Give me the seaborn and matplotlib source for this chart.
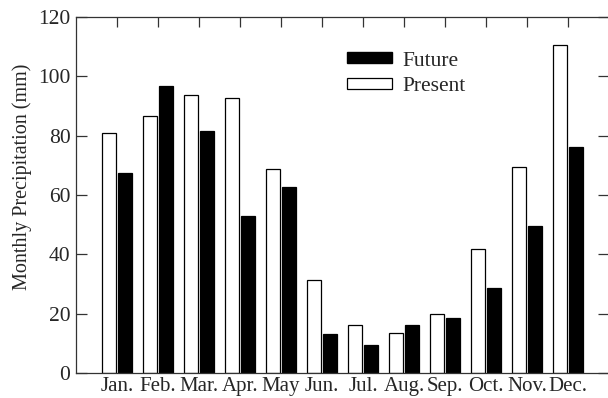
import pandas as pd
import matplotlib
matplotlib.use("Agg")
import matplotlib.pyplot as plt
import seaborn as sns
from matplotlib.patches import Patch

months = ['Jan.', 'Feb.', 'Mar.', 'Apr.', 'May', 'Jun.',
          'Jul.', 'Aug.', 'Sep.', 'Oct.', 'Nov.', 'Dec.']
present = [80.8, 86.5, 93.8, 92.6, 68.8, 31.2, 16.1, 13.6, 19.8, 41.9, 69.5, 110.5]
future = [67.4, 96.7, 81.6, 52.9, 62.6, 13.1, 9.4, 16.2, 18.5, 28.6, 49.5, 76.3]

colors = {'Present': 'white', 'Future': 'black'}

df = pd.DataFrame({
    'month': months * 2,
    'precip': present + future,
    'period': ['Present'] * len(months) + ['Future'] * len(months),
})

sns.set_style('white')
plt.rcParams['font.family'] = ['Liberation Serif', 'DejaVu Serif']

fig = plt.figure(figsize=(6.08, 3.98), dpi=100)
ax = fig.add_axes([76 / 608, 25 / 398, 533 / 608, 356 / 398])

sns.barplot(data=df, x='month', y='precip', hue='period',
            hue_order=['Present', 'Future'], palette=colors,
            order=months, width=0.8, gap=0.15,
            edgecolor='black', linewidth=0.9, legend=False, ax=ax)

ax.set_xlim(-1, 12)
ax.set_ylim(0, 120)
ax.set_yticks(range(0, 121, 20))
ax.set_xlabel('')
ax.set_ylabel('Monthly Precipitation (mm)', fontsize=14.5)
ax.yaxis.set_label_coords(-0.083, 0.55)

ax.tick_params(axis='x', bottom=False, top=True, direction='in',
               length=7, width=0.9, color='#333333', labelsize=15, pad=3)
ax.tick_params(axis='y', left=True, right=True, direction='in',
               length=8, width=0.9, color='#333333', labelsize=15.5, pad=4)

for side in ['left', 'right', 'top', 'bottom']:
    ax.spines[side].set_visible(True)
    ax.spines[side].set_color('#333333')
    ax.spines[side].set_linewidth(0.9)

# legend order in the reference: Future above Present
handles = [Patch(facecolor='black', edgecolor='black', label='Future'),
           Patch(facecolor='white', edgecolor='black', linewidth=0.9, label='Present')]
ax.legend(handles=handles, loc='upper left', bbox_to_anchor=(0.508, 0.903),
          frameon=False, fontsize=15.5, handlelength=2.1, handleheight=0.42,
          handletextpad=0.5, labelspacing=0.3, borderpad=0, borderaxespad=0)

fig.savefig('out.png', dpi=100)
